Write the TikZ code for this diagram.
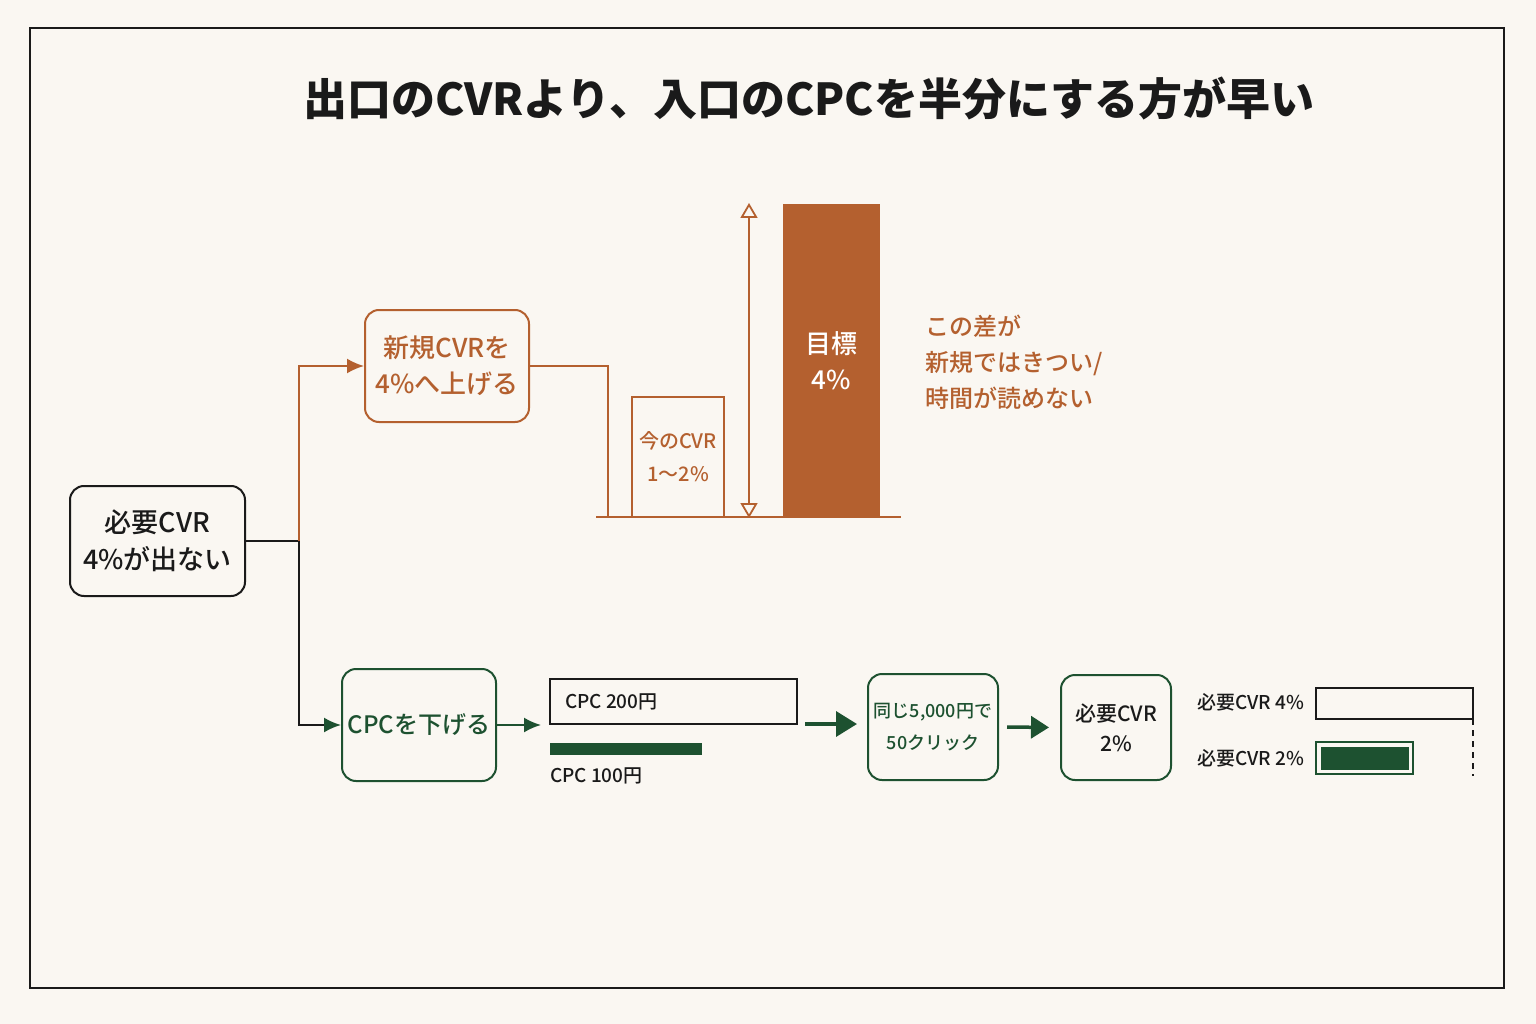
\documentclass[tikz,border=0pt]{standalone}
\usepackage{fontspec}
\setmainfont{Noto Sans CJK JP}
\newfontfamily\medfont{Noto Sans CJK JP Medium}
\usetikzlibrary{arrows.meta}
\definecolor{bg}{HTML}{FAF7F2}
\definecolor{rust}{HTML}{B4602F}
\definecolor{forest}{HTML}{1D5130}
\definecolor{ink}{HTML}{1A1A1A}
\newcommand{\fs}[2]{\fontsize{#1}{#2}\selectfont}
\begin{document}
\begin{tikzpicture}[x=1pt,y=-1pt,
  box/.style={draw, rounded corners=14pt, line width=2pt, align=center, inner sep=0pt},
  plain/.style={inner sep=0pt, outer sep=0pt},
  conn/.style={line width=2pt},
  gtip/.style={-{Latex[length=17pt,width=15pt]}}
]
\fill[bg] (0,0) rectangle (1536,1024);
\useasboundingbox (0,0) rectangle (1536,1024);
\node[draw=ink, line width=2pt, plain, minimum width=1474pt, minimum height=960pt, anchor=north west] (frame) at (30,28) {};

% title
\node[font=\fs{44}{50}\bfseries, text=ink] (title) at (809,98) {出口のCVRより、入口のCPCを半分にする方が早い};

% left box
\node[box, draw=ink, text=ink, minimum width=175pt, minimum height=110pt, font=\medfont\fs{27}{37}] (need) at (157.5,541) {必要CVR\\4\%が出ない};
\coordinate (j) at (299,541);

% upper branch
\node[box, draw=rust, text=rust, minimum width=164pt, minimum height=112pt, font=\medfont\fs{26}{36}] (newcvr) at (447,366) {新規CVRを\\4\%へ上げる};
\node[box, draw=forest, text=forest, minimum width=154pt, minimum height=112pt, font=\medfont\fs{24}{34}] (cpc) at (419,725) {CPCを下げる};

\draw[ink, conn] (need.east) -- (j);
\draw[rust, conn, -{Latex[length=17pt,width=15pt]}] (j) |- (newcvr.west);
\draw[ink, conn, -{Latex[length=17pt,width=15pt,color=forest]}] (j) |- (cpc.west);

% chart
\coordinate (drop) at (608,517);
\coordinate (bl) at (596,517);
\coordinate (br) at (901,517);
\draw[rust, conn] (newcvr.east) -| (drop);
\node[draw=rust, line width=1.8pt, plain, minimum width=92pt, minimum height=120pt, anchor=south west, text=rust, align=center, font=\medfont\fs{20}{33}] (now) at (632,517) {今のCVR\\1〜2\%};
\coordinate (gt) at (749,203);
\coordinate (gb) at (749,518);
\draw[rust, line width=1.8pt, {Triangle[open,length=15pt,width=17pt]}-{Triangle[open,length=15pt,width=17pt]}] (gt) -- (gb);
\node[fill=rust, plain, minimum width=97pt, minimum height=313pt, anchor=south west, text=white, align=center, font=\medfont\fs{26}{36}] (target) at (783,517) {目標\\4\%};
\draw[rust, line width=2.5pt] (bl) -- (br);
\node[anchor=north west, plain, text=rust, align=left, font=\medfont\fs{24}{36}] (gap) at (925,315) {この差が\\新規ではきつい/\\時間が読めない};

% lower branch
\coordinate (a1) at (541,725);
\draw[forest, conn, gtip] (cpc.east) -- (a1);
\node[draw=ink, line width=2pt, plain, minimum width=247pt, minimum height=45pt, anchor=north west] (c200) at (550,679) {};
\node[anchor=west, plain, text=ink, font=\medfont\fs{19}{22}] (c200t) at ([xshift=15pt]c200.west) {CPC 200円};
\node[fill=forest, plain, minimum width=152pt, minimum height=12pt, anchor=north west] (c100) at (550,743) {};
\node[anchor=west, plain, text=ink, font=\medfont\fs{19}{22}] (c100t) at (550,776) {CPC 100円};

\coordinate (a2s) at (805,724);
\coordinate (a2e) at (857,724);
\draw[forest, line width=3.5pt, -{Triangle[length=21pt,width=25pt]}] (a2s) -- (a2e);

\node[box, draw=forest, text=forest, minimum width=130pt, minimum height=106pt, font=\medfont\fs{18}{32}] (clicks) at (933,727) {同じ5,000円で\\50クリック};
\node[box, draw=forest, text=ink, minimum width=110pt, minimum height=105pt, font=\medfont\fs{21}{30}] (need2) at (1116,727.5) {必要CVR\\2\%};
\draw[forest, line width=3.5pt, shorten <=8pt, shorten >=11pt, -{Triangle[length=18pt,width=22pt]}] (clicks.east) -- (need2.west);

% legend
\node[anchor=west, plain, text=ink, font=\medfont\fs{19}{22}] (l4) at (1197,702) {必要CVR 4\%};
\node[anchor=west, plain, text=ink, font=\medfont\fs{19}{22}] (l2) at (1197,758) {必要CVR 2\%};
\node[draw=ink, line width=2pt, plain, minimum width=157pt, minimum height=31pt, anchor=north west] (r4) at (1316,688) {};
\node[draw=forest, line width=2.5pt, plain, minimum width=97pt, minimum height=32pt, anchor=north west] (r2) at (1316,742) {};
\node[fill=forest, plain, minimum width=88pt, minimum height=23pt] (r2in) at (r2.center) {};
\coordinate (dt) at (1473,719);
\coordinate (db) at (1473,776);
\draw[ink, line width=1.5pt, dash pattern=on 6pt off 5pt] (dt) -- (db);
\end{tikzpicture}
\end{document}
